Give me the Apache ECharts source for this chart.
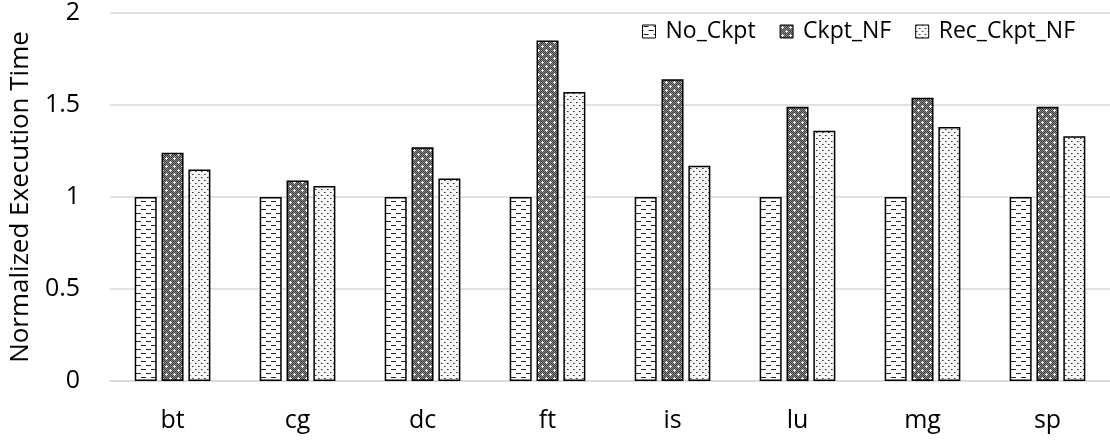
<!DOCTYPE html>
<html>
<head>
<meta charset="utf-8">
<script src="https://cdn.jsdelivr.net/npm/echarts@6/dist/echarts.min.js"></script>
<style>
  html, body { margin: 0; padding: 0; background: #fff; }
  #chart { width: 1110px; height: 441px; }
</style>
</head>
<body>
<div id="chart"></div>
<script>
// Benchmarks and normalized execution times
const categories = ['bt', 'cg', 'dc', 'ft', 'is', 'lu', 'mg', 'sp'];
const seriesNames = ['No_Ckpt', 'Ckpt_NF', 'Rec_Ckpt_NF'];
const noCkpt    = [1, 1, 1, 1, 1, 1, 1, 1];
const ckptNF    = [1.24, 1.09, 1.27, 1.85, 1.64, 1.49, 1.54, 1.49];
const recCkptNF = [1.15, 1.06, 1.10, 1.57, 1.17, 1.36, 1.38, 1.33];
const yTicks = [0, 0.5, 1, 1.5, 2];

// Small canvas tiles used as bar fill patterns
function tile(w, h, draw) {
  const c = document.createElement('canvas');
  c.width = w; c.height = h;
  const g = c.getContext('2d');
  draw(g);
  return { image: c, repeat: 'repeat' };
}

// White with staggered short dashes
const dashFill = tile(10, 8, g => {
  g.fillStyle = '#ffffff'; g.fillRect(0, 0, 10, 8);
  g.fillStyle = '#222222';
  g.fillRect(1, 1, 5, 1);
  g.fillRect(6, 5, 4, 1);
  g.fillRect(0, 5, 1, 1);
});

// Dark checker with white crosses
const crossFill = tile(8, 8, g => {
  for (let y = 0; y < 8; y++) {
    for (let x = 0; x < 8; x++) {
      g.fillStyle = ((x + y) % 2 === 0) ? '#3c3c3c' : '#8c8c8c';
      g.fillRect(x, y, 1, 1);
    }
  }
  g.fillStyle = '#ffffff';
  [[2, 2], [6, 6]].forEach(([cx, cy]) => {
    g.fillRect(cx, cy, 1, 1);
    g.fillRect(cx - 1, cy, 1, 1);
    g.fillRect(cx + 1, cy, 1, 1);
    g.fillRect(cx, cy - 1, 1, 1);
    g.fillRect(cx, cy + 1, 1, 1);
  });
});

// Light background with sparse dark dots
const dotFill = tile(6, 6, g => {
  g.fillStyle = '#f7f7f7'; g.fillRect(0, 0, 6, 6);
  g.fillStyle = '#333333';
  g.fillRect(0, 0, 1, 1);
  g.fillRect(3, 3, 1, 1);
  g.fillStyle = '#888888';
  g.fillRect(1, 0, 1, 1);
  g.fillRect(4, 3, 1, 1);
});

const fills = [dashFill, crossFill, dotFill];
const dataSets = [noCkpt, ckptNF, recCkptNF];
const font = '"Open Sans", "Noto Sans", sans-serif';

const chart = echarts.init(document.getElementById('chart'), null, { renderer: 'canvas' });
chart.setOption({
  animation: false,
  textStyle: { fontFamily: font },
  grid: { left: 110, right: 0, top: 13, bottom: 60 },
  legend: {
    data: seriesNames,
    icon: 'rect',
    top: 15,
    right: 30,
    itemWidth: 13,
    itemHeight: 13,
    itemGap: 24,
    itemStyle: { borderColor: '#000', borderWidth: 1 },
    textStyle: { fontFamily: font, fontSize: 23, color: '#000', padding: [0, 0, 0, 5] }
  },
  xAxis: {
    type: 'category',
    data: categories,
    axisLine: { lineStyle: { color: '#d9d9d9', width: 1.5 } },
    axisTick: { show: false },
    axisLabel: { fontFamily: font, fontSize: 25, color: '#000', margin: 27 }
  },
  yAxis: {
    type: 'value',
    min: yTicks[0],
    max: yTicks[yTicks.length - 1],
    interval: 0.5,
    name: 'Normalized Execution Time',
    nameLocation: 'middle',
    nameGap: 73,
    nameTextStyle: { fontFamily: font, fontSize: 26, color: '#000' },
    axisLine: { show: false },
    axisTick: { show: false },
    splitLine: { lineStyle: { color: '#d9d9d9', width: 1.5 } },
    axisLabel: { fontFamily: font, fontSize: 25, color: '#000', margin: 30 }
  },
  series: seriesNames.map((name, i) => ({
    name,
    type: 'bar',
    data: dataSets[i],
    barWidth: 22,
    barGap: '22%',
    itemStyle: { color: fills[i], borderColor: '#000', borderWidth: 1.5 }
  }))
});
</script>
</body>
</html>
